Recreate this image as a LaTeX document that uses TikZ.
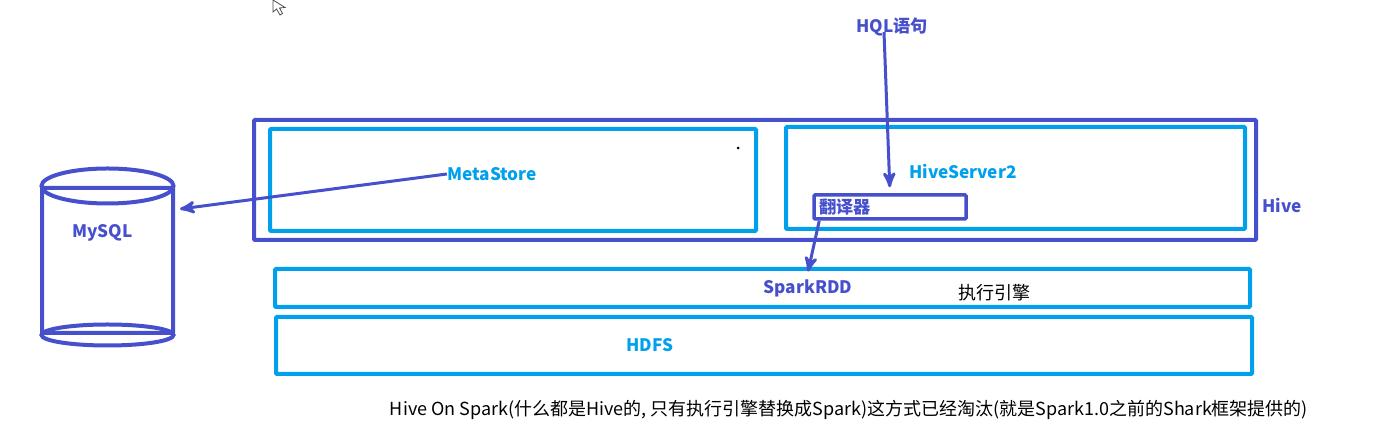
\documentclass[tikz,border=0pt]{standalone}
\usepackage{xcolor}
\usepackage{fontspec}
\setmainfont{Noto Sans CJK SC}
\usepackage{tikz}
\usetikzlibrary{shapes,arrows}
\definecolor{darkblue}{HTML}{4650CC}
\definecolor{skyblue}{HTML}{00A0EC}
\tikzstyle{outerBox} = [rectangle, draw=darkblue, line width=2pt, rounded corners=0.5pt]
\tikzstyle{box} = [rectangle, draw=skyblue, line width=2pt, rounded corners=0.5pt]
\tikzstyle{smallBox} = [rectangle, draw=darkblue, line width=1.75pt, rounded corners=0.5pt]
\tikzstyle{disc} = [ellipse, draw=darkblue, line width=2pt, inner sep=0pt, minimum width=66pt]
\tikzstyle{blueText} = [text=skyblue, font=\fontsize{8.6}{11}\selectfont\bfseries, inner sep=0pt]
\tikzstyle{darkText} = [text=darkblue, font=\fontsize{8.6}{11}\selectfont\bfseries, inner sep=0pt]
\tikzstyle{blackText} = [text=black, font=\fontsize{9}{11}\selectfont, inner sep=0pt]
\tikzstyle{line} = [draw=darkblue, line width=1.5pt, -stealth']

\begin{document}
\begin{tikzpicture}[x=0.5pt, y=-0.5pt]
    \useasboundingbox (0,0) rectangle (1380,431);
    % Place nodes
    \node [outerBox, minimum width=501pt, minimum height=60pt] (hive) at (755,180) {};
    \node [box, minimum width=243pt, minimum height=51pt] (metaBox) at (513,180) {};
    \node [box, minimum width=229.5pt, minimum height=51pt] (serverBox) at (1015.5,178) {};
    \node [smallBox, minimum width=76pt, minimum height=12pt] (translator) at (890,207) {};
    \node [box, minimum width=487.5pt, minimum height=19pt] (sparkBox) at (762.5,288) {};
    \node [box, minimum width=488pt, minimum height=28.5pt] (hdfsBox) at (764,345.5) {};
    \node [outerBox, minimum width=65.5pt, minimum height=72.5pt] (mysql) at (107.5,260.5) {};
    \node [disc, minimum height=17.5pt] (mysqlTop) at (mysql.north) {};
    \node [disc, minimum height=10.5pt] (mysqlBottom) at (mysql.south) {};

    \node [darkText] (mysqlLabel) at (102.5,233) {MySQL};
    \node [blueText] (metaLabel) at (492,174) {MetaStore};
    \node [blueText] (serverLabel) at (963,171) {HiveServer2};
    \node [darkText] (translatorLabel) at (845,207) {翻译器};
    \node [darkText] (hiveLabel) at (1282,205) {Hive};
    \node [darkText] (hqlLabel) at (892,27) {HQL语句};
    \node [darkText, minimum height=16pt] (sparkLabel) at (808,288) {SparkRDD};
    \node [blackText] (engineLabel) at (994,293) {执行引擎};
    \node [blueText] (hdfsLabel) at (650,345) {HDFS};
    \node [blackText] (noteLabel) at (849,410) {Hive On Spark(什么都是Hive的, 只有执行引擎替换成Spark)这方式已经淘汰(就是Spark1.0之前的Shark框架提供的)};
    \coordinate (hqlOut) at (884,32);
    \coordinate (mysqlIn) at (180,209);

    % Draw edges
    \path [line] (metaLabel.west) -- (mysqlIn);
    \path [line, shorten >=3pt] (hqlOut) -- (translator.north);
    \path [line] (translator.191) -- (sparkLabel.north);

    % cursor and speck
    \draw [black!70, fill=white, line width=0.4pt] (273,0) -- (273,12) -- (276.5,9) -- (280,15) -- (282.5,13.5) -- (279.5,8) -- (285,7.5) -- cycle;
    \fill [black] (738,148) circle (1.5);
\end{tikzpicture}
\end{document}
